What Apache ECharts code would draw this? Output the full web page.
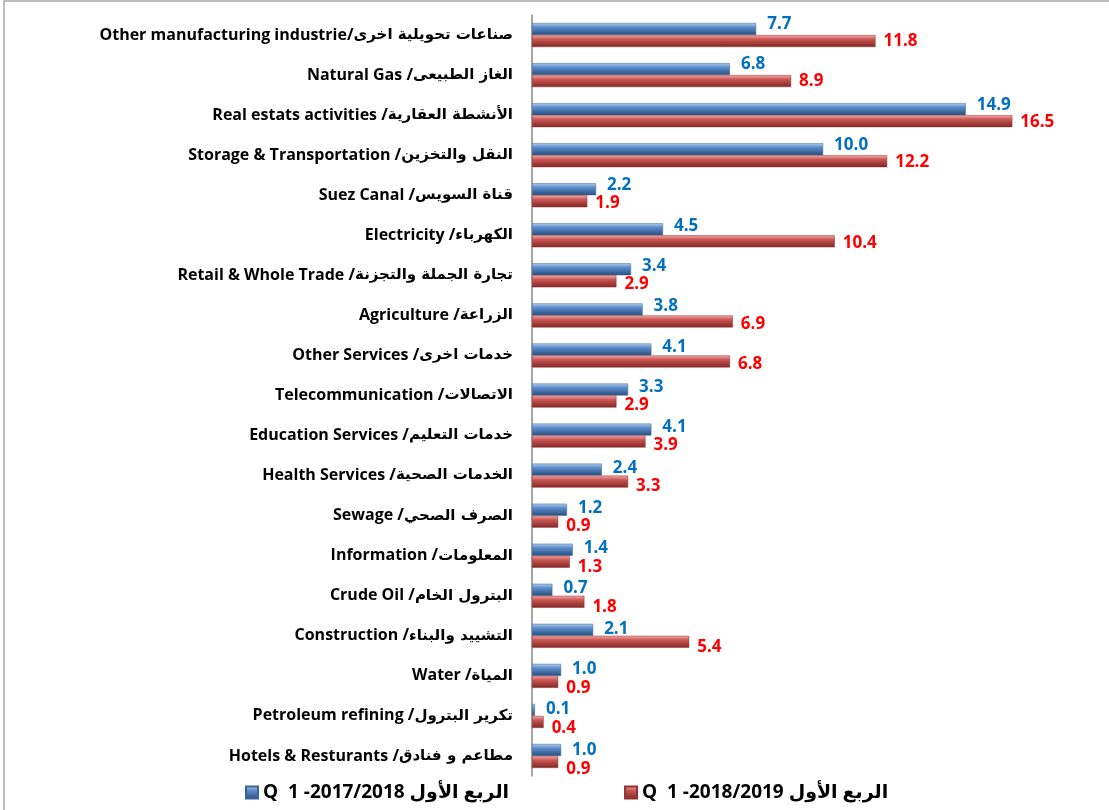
<!DOCTYPE html>
<html>
<head>
<meta charset="utf-8">
<script src="https://cdn.jsdelivr.net/npm/echarts@6/dist/echarts.min.js"></script>
<style>
  html, body { margin: 0; padding: 0; background: #fff; }
  #main { width: 1109px; height: 810px; }
</style>
</head>
<body>
<div id="main"></div>
<script>
  // categories, top to bottom
  var categories = [
    'Other manufacturing industrie/صناعات تحويلية اخرى',
    'Natural Gas /الغاز الطبيعى',
    'Real estats activities /الأنشطة العقارية',
    'Storage & Transportation /النقل والتخزين',
    'Suez Canal /قناة السويس',
    'Electricity /الكهرباء',
    'Retail & Whole Trade /تجارة الجملة والتجزنة',
    'Agriculture /الزراعة',
    'Other Services /خدمات اخرى',
    'Telecommunication /الاتصالات',
    'Education Services /خدمات التعليم',
    'Health Services /الخدمات الصحية',
    'Sewage /الصرف الصحي',
    'Information /المعلومات',
    'Crude Oil /البترول الخام',
    'Construction /التشييد والبناء',
    'Water /المياة',
    'Petroleum refining /تكرير البترول',
    'Hotels & Resturants /مطاعم و فنادق'
  ];
  var q1_2017 = [7.7, 6.8, 14.9, 10.0, 2.2, 4.5, 3.4, 3.8, 4.1, 3.3, 4.1, 2.4, 1.2, 1.4, 0.7, 2.1, 1.0, 0.1, 1.0];
  var q1_2018 = [11.8, 8.9, 16.5, 12.2, 1.9, 10.4, 2.9, 6.9, 6.8, 2.9, 3.9, 3.3, 0.9, 1.3, 1.8, 5.4, 0.9, 0.4, 0.9];
  var seriesNames = ['Q  1 -2017/2018 الربع الأول', 'Q  1 -2018/2019 الربع الأول'];

  var font = '"Open Sans", "DejaVu Sans", sans-serif';
  var arFont = '"DejaVu Sans", sans-serif';

  function grad(light, mid, dark) {
    return new echarts.graphic.LinearGradient(0, 0, 0, 1, [
      {offset: 0, color: light},
      {offset: 0.35, color: mid},
      {offset: 1, color: dark}
    ]);
  }

  // labels drift a little from top to bottom like the excel original
  function withLabels(values, y0, y1) {
    var n = values.length - 1;
    return values.map(function (v, i) {
      return {value: v, label: {offset: [0, y0 + (y1 - y0) * i / n]}};
    });
  }

  var myChart = echarts.init(document.getElementById('main'));
  var option = {
    animation: false,
    graphic: [{
      type: 'rect',
      shape: {x: 4, y: 1, width: 1200, height: 900},
      style: {fill: 'none', stroke: '#a6a6a6', lineWidth: 1.5}
    }],
    legend: {
      left: 240,
      bottom: 3,
      itemWidth: 12,
      itemHeight: 12,
      itemGap: 115,
      icon: 'rect',
      textStyle: {fontFamily: font, fontWeight: 'bold', fontSize: 19, color: '#000'},
      data: seriesNames
    },
    grid: {left: 532, right: 53, top: 15, bottom: 34},
    xAxis: {
      type: 'value',
      min: 0,
      max: 18,
      show: false
    },
    yAxis: {
      type: 'category',
      inverse: true,
      data: categories,
      axisLine: {lineStyle: {color: '#868686', width: 1.5}},
      axisTick: {length: 7, lineStyle: {color: '#868686', width: 1.5}},
      axisLabel: {
        margin: 19,
        formatter: function (v) {
          var k = v.lastIndexOf('/') + 1;
          return '{en|' + v.slice(0, k) + '}{ar|' + v.slice(k) + '}';
        },
        rich: {
          en: {fontFamily: font, fontWeight: 'bold', fontSize: 16, color: '#000'},
          ar: {fontFamily: arFont, fontWeight: 'bold', fontSize: 15, color: '#000'}
        }
      }
    },
    series: [
      {
        name: seriesNames[0],
        type: 'bar',
        barWidth: 12,
        barGap: '0%',
        data: withLabels(q1_2017, -5, 0),
        itemStyle: {
          color: grad('#b3cdee', '#5b8ccb', '#274e7d'),
          borderColor: '#3c6494',
          borderWidth: 0.5
        },
        label: {
          show: true,
          position: 'right',
          distance: 11,
          fontFamily: font,
          fontWeight: 'bold',
          fontSize: 17,
          color: '#0070c0',
          formatter: function (p) { return p.value.toFixed(1); }
        }
      },
      {
        name: seriesNames[1],
        type: 'bar',
        barWidth: 12,
        barGap: '0%',
        data: withLabels(q1_2018, 0, 7),
        itemStyle: {
          color: grad('#f0b0ae', '#cc5552', '#7e2826'),
          borderColor: '#8e3331',
          borderWidth: 0.5
        },
        label: {
          show: true,
          position: 'right',
          distance: 8,
          fontFamily: font,
          fontWeight: 'bold',
          fontSize: 17,
          color: '#ff0000',
          formatter: function (p) { return p.value.toFixed(1); }
        }
      }
    ]
  };
  myChart.setOption(option);
</script>
</body>
</html>
